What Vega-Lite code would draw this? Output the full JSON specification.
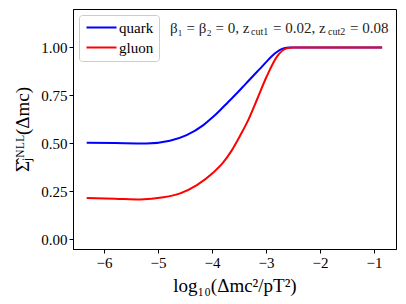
{
  "$schema": "https://vega.github.io/schema/vega-lite/v6.json",
  "width": 323,
  "height": 240,
  "autosize": {"type": "none"},
  "padding": {"left": 73, "top": 9, "right": 10, "bottom": 55},
  "background": "white",
  "config": {
    "view": {"stroke": "black", "strokeWidth": 1},
    "font": "Liberation Serif",
    "axis": {
      "grid": false,
      "domainColor": "black",
      "tickColor": "black",
      "tickSize": 4,
      "labelFont": "Liberation Serif",
      "labelFontSize": 15,
      "labelColor": "black",
      "titleFont": "Liberation Serif",
      "titleFontSize": 19,
      "titleFontWeight": "normal",
      "titleColor": "black"
    },
    "legend": {
      "labelFont": "Liberation Serif",
      "labelFontSize": 15,
      "labelColor": "black"
    }
  },
  "datasets": {
    "curves": [
      {"x": -6.32, "y": 0.504, "parton": "quark"},
      {"x": -5.8, "y": 0.502, "parton": "quark"},
      {"x": -5.21, "y": 0.5, "parton": "quark"},
      {"x": -4.78, "y": 0.514, "parton": "quark"},
      {"x": -4.47, "y": 0.543, "parton": "quark"},
      {"x": -4.16, "y": 0.595, "parton": "quark"},
      {"x": -4.0, "y": 0.633, "parton": "quark"},
      {"x": -3.85, "y": 0.673, "parton": "quark"},
      {"x": -3.7, "y": 0.716, "parton": "quark"},
      {"x": -3.54, "y": 0.761, "parton": "quark"},
      {"x": -3.39, "y": 0.806, "parton": "quark"},
      {"x": -3.24, "y": 0.851, "parton": "quark"},
      {"x": -3.1, "y": 0.892, "parton": "quark"},
      {"x": -2.96, "y": 0.935, "parton": "quark"},
      {"x": -2.82, "y": 0.972, "parton": "quark"},
      {"x": -2.68, "y": 0.995, "parton": "quark"},
      {"x": -2.56, "y": 1.0, "parton": "quark"},
      {"x": -2.0, "y": 1.0, "parton": "quark"},
      {"x": -1.5, "y": 1.0, "parton": "quark"},
      {"x": -0.85, "y": 1.0, "parton": "quark"},
      {"x": -6.32, "y": 0.215, "parton": "gluon"},
      {"x": -5.8, "y": 0.212, "parton": "gluon"},
      {"x": -5.33, "y": 0.208, "parton": "gluon"},
      {"x": -4.9, "y": 0.219, "parton": "gluon"},
      {"x": -4.59, "y": 0.24, "parton": "gluon"},
      {"x": -4.28, "y": 0.283, "parton": "gluon"},
      {"x": -3.98, "y": 0.347, "parton": "gluon"},
      {"x": -3.8, "y": 0.398, "parton": "gluon"},
      {"x": -3.64, "y": 0.461, "parton": "gluon"},
      {"x": -3.48, "y": 0.54, "parton": "gluon"},
      {"x": -3.33, "y": 0.621, "parton": "gluon"},
      {"x": -3.17, "y": 0.726, "parton": "gluon"},
      {"x": -2.99, "y": 0.847, "parton": "gluon"},
      {"x": -2.8, "y": 0.951, "parton": "gluon"},
      {"x": -2.62, "y": 0.995, "parton": "gluon"},
      {"x": -2.49, "y": 1.0, "parton": "gluon"},
      {"x": -2.0, "y": 1.0, "parton": "gluon"},
      {"x": -1.5, "y": 1.0, "parton": "gluon"},
      {"x": -0.85, "y": 1.0, "parton": "gluon"}
    ],
    "annot": [
      {"x": -4.778, "y": 1.099, "t": "β₁ = β₂ = 0, z"},
      {"x": -2.87, "y": 1.099, "t": "= 0.02, z"},
      {"x": -1.444, "y": 1.099, "t": "= 0.08"}
    ],
    "subs": [
      {"x": -3.278, "y": 1.082, "t": "cut1"},
      {"x": -1.852, "y": 1.082, "t": "cut2"}
    ]
  },
  "layer": [
    {
      "data": {"name": "curves"},
      "mark": {"type": "line", "strokeWidth": 2, "interpolate": "monotone", "clip": true},
      "encoding": {
        "x": {
          "field": "x", "type": "quantitative",
          "scale": {"domain": [-6.574, -0.593], "nice": false, "zero": false},
          "axis": {"values": [-6, -5, -4, -3, -2, -1], "format": "d", "title": "log₁₀(Δmc²/pT²)", "titlePadding": 6}
        },
        "y": {
          "field": "y", "type": "quantitative",
          "scale": {"domain": [-0.05, 1.2], "nice": false, "zero": false},
          "axis": {"values": [0, 0.25, 0.5, 0.75, 1.0], "format": ".2f", "title": "Σ̂ⱼᴺᴸᴸ(Δmc)", "titlePadding": 8}
        },
        "color": {
          "field": "parton", "type": "nominal",
          "scale": {"domain": ["quark", "gluon"], "range": ["#0000ff", "#ff0000"]},
          "legend": {
            "title": null,
            "orient": "top-left",
            "offset": 6,
            "symbolType": "M-1,0H5",
            "symbolSize": 100,
            "symbolStrokeWidth": 2,
            "labelOffset": 20,
            "rowPadding": 4,
            "padding": 5,
            "strokeColor": "#cccccc",
            "fillColor": "white",
            "cornerRadius": 3
          }
        }
      }
    },
    {
      "data": {"name": "annot"},
      "mark": {"type": "text", "align": "left", "baseline": "middle", "fontSize": 15, "font": "Liberation Serif", "color": "#222222"},
      "encoding": {
        "x": {"field": "x", "type": "quantitative"},
        "y": {"field": "y", "type": "quantitative"},
        "text": {"field": "t"}
      }
    },
    {
      "data": {"name": "subs"},
      "mark": {"type": "text", "align": "left", "baseline": "middle", "fontSize": 10, "font": "Liberation Serif", "color": "#222222"},
      "encoding": {
        "x": {"field": "x", "type": "quantitative"},
        "y": {"field": "y", "type": "quantitative"},
        "text": {"field": "t"}
      }
    }
  ]
}
